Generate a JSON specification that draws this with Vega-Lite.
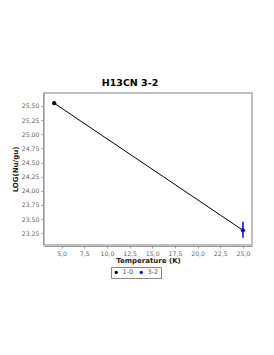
{
  "$schema": "https://vega.github.io/schema/vega-lite/v6.json",
  "autosize": "none",
  "width": 208,
  "height": 152,
  "padding": {"left": 44, "top": 93, "right": 22, "bottom": 110},
  "title": {"text": "H13CN 3-2", "font": "DejaVu Sans", "fontSize": 9.5, "fontWeight": "bold", "color": "#000", "dx": -18, "offset": 6, "anchor": "middle"},
  "config": {
    "view": {"stroke": "#aaa", "strokeWidth": 1.5},
    "font": "DejaVu Sans",
    "axis": {"labelOverlap": false, "labelFlush": false}
  },
  "data": {"values": [
    {"line": "1-0", "T": 4.18, "y": 25.55, "lo": 25.52, "hi": 25.58},
    {"line": "3-2", "T": 25.0, "y": 23.30, "lo": 23.17, "hi": 23.45}
  ]},
  "encoding": {
    "x": {"field": "T", "type": "quantitative", "scale": {"domain": [3.06, 26.0], "nice": false, "zero": false},
      "axis": {"values": [5, 7.5, 10, 12.5, 15, 17.5, 20, 22.5, 25], "labelOverlap": false, "labelExpr": "replace(format(datum.value, '.1f'), '.', ',')", "title": "Temperature (K)", "titleFontSize": 7, "titleFontWeight": "bold", "titleColor": "#222", "labelFontSize": 6.2, "labelColor": "#666", "grid": false, "domainColor": "#999", "tickColor": "#999", "tickSize": 2, "offset": 1, "labelPadding": 2, "titlePadding": 0}},
    "y": {"field": "y", "type": "quantitative", "scale": {"domain": [23.04, 25.73], "nice": false, "zero": false},
      "axis": {"values": [23.25, 23.5, 23.75, 24, 24.25, 24.5, 24.75, 25, 25.25, 25.5], "labelOverlap": false, "labelExpr": "replace(format(datum.value, '.2f'), '.', ',')", "title": "LOG(Nu/gu)", "titleFontSize": 7, "titleFontWeight": "bold", "titleColor": "#222", "labelFontSize": 6.2, "labelColor": "#666", "grid": false, "domainColor": "#999", "tickColor": "#999", "tickSize": 2, "offset": 1, "labelPadding": 2, "titlePadding": 3}}
  },
  "layer": [
    {
      "mark": {"type": "line", "color": "#000", "strokeWidth": 1}
    },
    {
      "mark": {"type": "rule", "strokeWidth": 1.5},
      "encoding": {
        "y": {"field": "lo", "type": "quantitative", "scale": {"domain": [23.04, 25.73], "nice": false, "zero": false},
          "axis": {"values": [23.25, 23.5, 23.75, 24, 24.25, 24.5, 24.75, 25, 25.25, 25.5], "labelOverlap": false, "labelExpr": "replace(format(datum.value, '.2f'), '.', ',')", "title": "LOG(Nu/gu)", "titleFontSize": 7, "titleFontWeight": "bold", "titleColor": "#222", "labelFontSize": 6.2, "labelColor": "#666", "grid": false, "domainColor": "#999", "tickColor": "#999", "tickSize": 2, "offset": 1, "labelPadding": 2, "titlePadding": 3}},
        "y2": {"field": "hi"},
        "color": {"field": "line", "type": "nominal", "scale": {"domain": ["1-0", "3-2"], "range": ["#000000", "#0000ff"]}}
      }
    },
    {
      "mark": {"type": "point", "filled": true, "opacity": 1, "size": 18},
      "encoding": {
        "color": {"field": "line", "type": "nominal", "scale": {"domain": ["1-0", "3-2"], "range": ["#000000", "#0000ff"]},
          "legend": {"title": null, "orient": "none", "legendX": 67, "legendY": 174, "direction": "horizontal", "strokeColor": "#888", "padding": 2, "labelFontSize": 6.5, "labelColor": "#555", "symbolSize": 10, "symbolType": "circle", "symbolStrokeWidth": 0, "columnPadding": 4, "labelOffset": 3}}
      }
    }
  ]
}
